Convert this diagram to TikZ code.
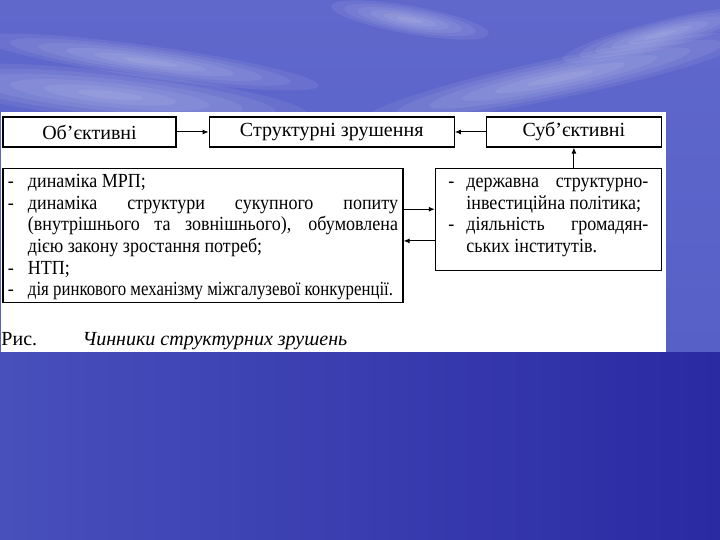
\documentclass[tikz,border=0pt]{standalone}
\usepackage{fontspec}
\usepackage{graphicx}
\setmainfont{Liberation Serif}
\newfontfamily\bodyfont[FakeStretch=0.9]{Liberation Serif}
\usetikzlibrary{positioning, calc, arrows.meta, backgrounds}
\definecolor{skytop}{HTML}{6068CC}
\definecolor{skylow}{HTML}{5660C6}
\definecolor{sea}{HTML}{2A2AA2}
\definecolor{sealight}{HTML}{4850BC}

\newcommand{\dashitem}[1]{\par\noindent\hangindent=20pt\hangafter=1\makebox[20pt][l]{-}\strut#1}
\newcommand{\dashitemr}[1]{\par\noindent\hangindent=18pt\hangafter=1\makebox[18pt][l]{-}\strut#1}

\begin{document}
\begin{tikzpicture}[
    x=1pt, y=1pt,
    >={Latex[length=6pt,width=5pt]},
    line width=1pt,
    node distance=20pt and 32pt,
    box/.style={
        draw,
        line width=1.2pt,
        fill=white,
        minimum height=30pt,
        inner sep=0pt,
        font=\fontsize{20}{24}\selectfont
    },
    listbox/.style={
        draw,
        line width=1.2pt,
        fill=white,
        align=justify,
        inner xsep=5pt,
        inner ysep=0pt,
        font=\bodyfont\fontsize{20}{21.6}\selectfont
    },
    cloud/.style={fill=white, opacity=0.07}
]

% background
\useasboundingbox (0,0) rectangle (720,540);
\shade[top color=skytop, bottom color=skylow] (0,187) rectangle (720,540);
\shade[left color=sealight, right color=sea] (0,0) rectangle (720,187);
\foreach \cx/\cy/\rx/\ry/\ang in {150/478/170/16/-8, 110/445/200/24/-6, 560/462/200/20/12,
                                  410/520/80/14/-10, 660/505/100/14/14} {
    \foreach \k in {1,...,6}
        \fill[cloud, rotate around={\ang:(\cx,\cy)}] (\cx,\cy) ellipse ({\rx*\k/6} and {\ry*\k/6});
}

% white panel
\node[fill=white, minimum width=665pt, minimum height=240pt, inner sep=0pt, anchor=south west] (panel) at (0,187) {};

\node[box, minimum width=173pt] (obj) at (89.5,408) {Об’єктивні};
\node[box, minimum width=245pt, right=32pt of obj] (zrush) {Структурні зрушення};
\node[box, minimum width=175pt, right=31pt of zrush] (subj) {Суб’єктивні};

\node[listbox, text width=390pt, below=20pt of obj.south west, anchor=north west] (objlist) {%
\vspace*{-2pt}
\dashitem{динаміка МРП;}
\dashitem{динаміка структури сукупного попиту\linebreak (внутрішнього та зовнішнього), обумовлена\linebreak дією закону зростання потреб;}
\dashitem{НТП;}
\dashitem{\resizebox{365pt}{\height}{дія ринкового механізму міжгалузевої конкуренції.}}\par};

\node[listbox, text width=200pt, inner xsep=13pt, below=20pt of subj.south east, anchor=north east] (subjlist) {%
\vspace*{-2pt}
\dashitemr{державна структурно-\linebreak інвестиційна політика;}
\dashitemr{діяльність громадян-\linebreak ських інститутів.\rule[-18pt]{0pt}{1pt}}\par};

\node[anchor=base west, inner sep=0pt, font=\fontsize{20}{22}\selectfont] (ris) at (1,194) {Рис.};
\node[anchor=base west, inner sep=0pt, font=\itshape\fontsize{20}{22}\selectfont] (capt) at (82,194) {Чинники структурних зрушень};

\draw[->] (obj) -- (zrush);
\draw[->] (subj) -- (zrush);
\draw[->] (subjlist.north -| subj.south) -- (subj.south);
\draw[->] ([yshift=26pt]objlist.east) -- ([yshift=26pt]objlist.east -| subjlist.west);
\draw[->] ([yshift=-21.5pt]subjlist.west) -- ([yshift=-21.5pt]subjlist.west -| objlist.east);

\end{tikzpicture}
\end{document}
